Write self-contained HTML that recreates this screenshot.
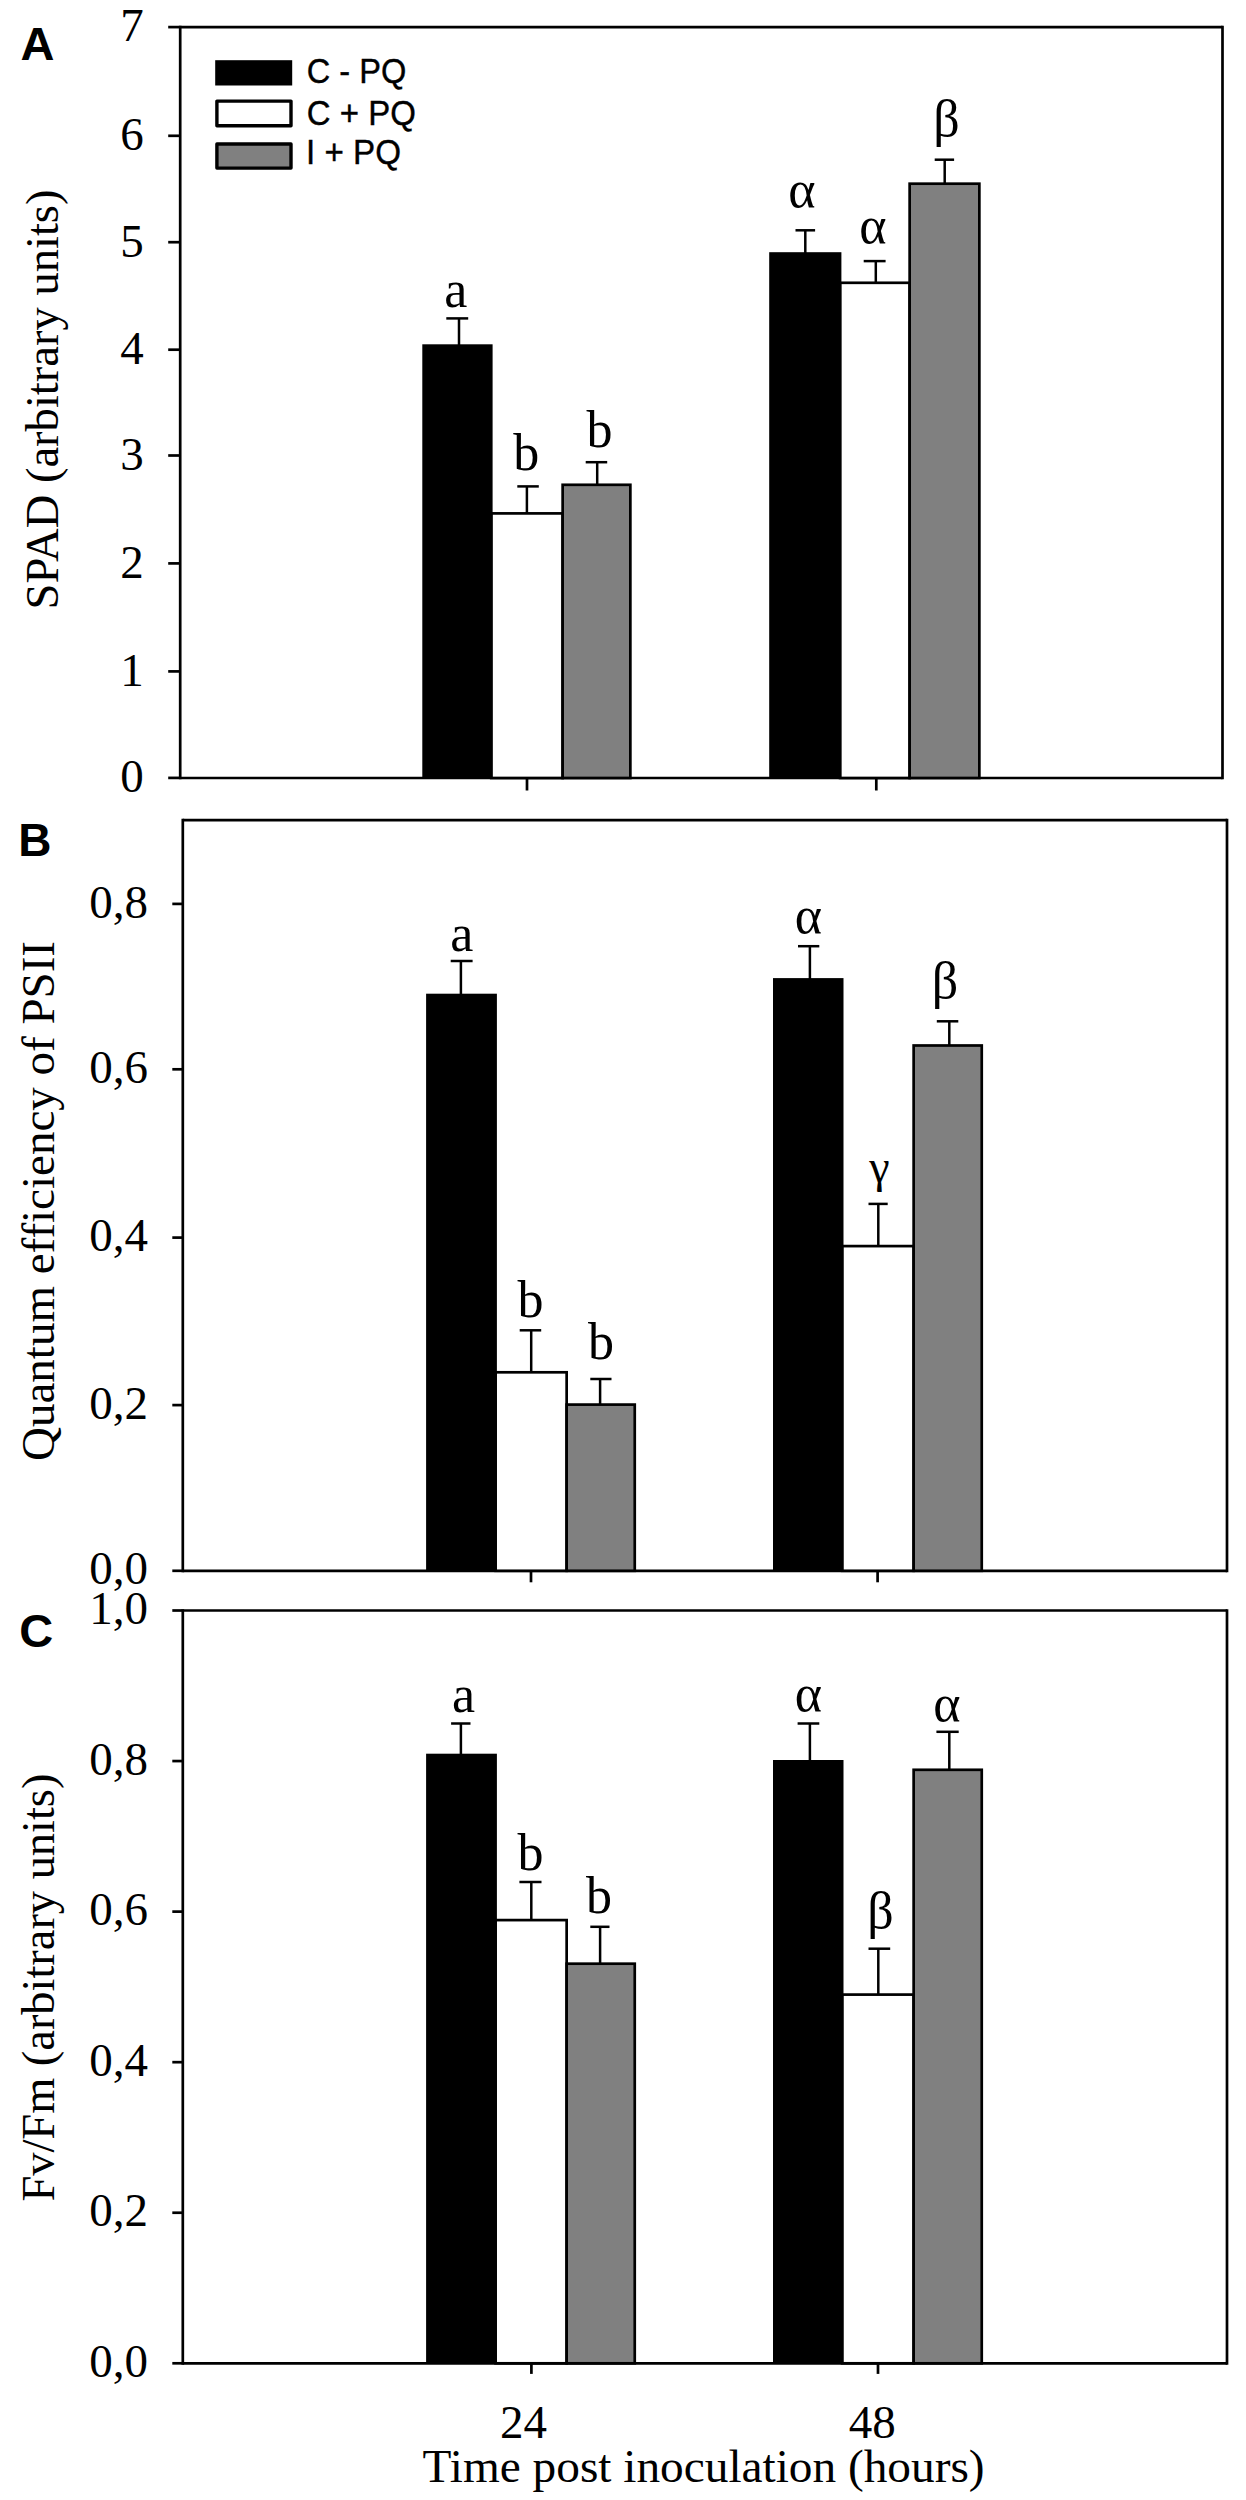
<!DOCTYPE html>
<html lang="en">
<head>
<meta charset="utf-8">
<title>Figure</title>
<style>
html,body{margin:0;padding:0;background:#fff;}
body{width:1246px;height:2500px;overflow:hidden;}
svg{display:block;}
text{fill:#000;}
</style>
</head>
<body>
<svg width="1246" height="2500" viewBox="0 0 1246 2500">
<rect x="0" y="0" width="1246" height="2500" fill="#fff"/>
<line x1="180.2" y1="25.849999999999998" x2="180.2" y2="779.35" stroke="#000" stroke-width="2.7"/>
<line x1="1222.5" y1="25.849999999999998" x2="1222.5" y2="779.35" stroke="#000" stroke-width="2.7"/>
<line x1="180.2" y1="27.2" x2="1222.5" y2="27.2" stroke="#000" stroke-width="2.7"/>
<line x1="180.2" y1="778.0" x2="1222.5" y2="778.0" stroke="#000" stroke-width="2.7"/>
<line x1="168.2" y1="777.9" x2="180.2" y2="777.9" stroke="#000" stroke-width="2.7"/>
<text x="143.8" y="792.1999999999999" font-family='"Liberation Serif", "DejaVu Serif", serif' font-size="47" font-weight="normal" text-anchor="end" >0</text>
<line x1="168.2" y1="671.4" x2="180.2" y2="671.4" stroke="#000" stroke-width="2.7"/>
<text x="143.8" y="685.6999999999999" font-family='"Liberation Serif", "DejaVu Serif", serif' font-size="47" font-weight="normal" text-anchor="end" >1</text>
<line x1="168.2" y1="563.4" x2="180.2" y2="563.4" stroke="#000" stroke-width="2.7"/>
<text x="143.8" y="577.6999999999999" font-family='"Liberation Serif", "DejaVu Serif", serif' font-size="47" font-weight="normal" text-anchor="end" >2</text>
<line x1="168.2" y1="455.5" x2="180.2" y2="455.5" stroke="#000" stroke-width="2.7"/>
<text x="143.8" y="469.8" font-family='"Liberation Serif", "DejaVu Serif", serif' font-size="47" font-weight="normal" text-anchor="end" >3</text>
<line x1="168.2" y1="349.7" x2="180.2" y2="349.7" stroke="#000" stroke-width="2.7"/>
<text x="143.8" y="364.0" font-family='"Liberation Serif", "DejaVu Serif", serif' font-size="47" font-weight="normal" text-anchor="end" >4</text>
<line x1="168.2" y1="242.2" x2="180.2" y2="242.2" stroke="#000" stroke-width="2.7"/>
<text x="143.8" y="256.5" font-family='"Liberation Serif", "DejaVu Serif", serif' font-size="47" font-weight="normal" text-anchor="end" >5</text>
<line x1="168.2" y1="135.8" x2="180.2" y2="135.8" stroke="#000" stroke-width="2.7"/>
<text x="143.8" y="150.10000000000002" font-family='"Liberation Serif", "DejaVu Serif", serif' font-size="47" font-weight="normal" text-anchor="end" >6</text>
<line x1="168.2" y1="27.1" x2="180.2" y2="27.1" stroke="#000" stroke-width="2.7"/>
<text x="143.8" y="41.400000000000006" font-family='"Liberation Serif", "DejaVu Serif", serif' font-size="47" font-weight="normal" text-anchor="end" >7</text>
<line x1="527.0" y1="778.0" x2="527.0" y2="790.5" stroke="#000" stroke-width="2.7"/>
<line x1="876.3" y1="778.0" x2="876.3" y2="790.5" stroke="#000" stroke-width="2.7"/>
<rect x="491.25" y="513.40" width="71.40" height="264.60" fill="#fff" stroke="#000" stroke-width="2.7"/>
<rect x="422.3" y="344.30" width="70.30" height="433.70" fill="#000"/>
<rect x="562.65" y="484.80" width="67.70" height="293.20" fill="#808080" stroke="#000" stroke-width="2.7"/>
<rect x="840.05" y="282.80" width="69.60" height="495.20" fill="#fff" stroke="#000" stroke-width="2.7"/>
<rect x="769.2" y="252.20" width="72.20" height="525.80" fill="#000"/>
<rect x="909.65" y="183.70" width="69.70" height="594.30" fill="#808080" stroke="#000" stroke-width="2.7"/>
<line x1="459.0" y1="318.4" x2="459.0" y2="345" stroke="#000" stroke-width="2.5"/>
<line x1="446.3" y1="318.4" x2="468.2" y2="318.4" stroke="#000" stroke-width="2.5"/>
<line x1="526.9" y1="486.4" x2="526.9" y2="513.4" stroke="#000" stroke-width="2.5"/>
<line x1="517.3" y1="486.4" x2="538.8" y2="486.4" stroke="#000" stroke-width="2.5"/>
<line x1="597.2" y1="462.2" x2="597.2" y2="485" stroke="#000" stroke-width="2.5"/>
<line x1="585.7" y1="462.2" x2="607.2" y2="462.2" stroke="#000" stroke-width="2.5"/>
<line x1="805.3" y1="230.3" x2="805.3" y2="253" stroke="#000" stroke-width="2.5"/>
<line x1="795.5" y1="230.3" x2="815.1" y2="230.3" stroke="#000" stroke-width="2.5"/>
<line x1="875.8" y1="261.1" x2="875.8" y2="283" stroke="#000" stroke-width="2.5"/>
<line x1="863.7" y1="261.1" x2="885.6" y2="261.1" stroke="#000" stroke-width="2.5"/>
<line x1="944.7" y1="159.7" x2="944.7" y2="184" stroke="#000" stroke-width="2.5"/>
<line x1="934.7" y1="159.7" x2="954.1" y2="159.7" stroke="#000" stroke-width="2.5"/>
<text x="455.8" y="306.6" font-family='"Liberation Serif", "DejaVu Serif", serif' font-size="52" font-weight="normal" text-anchor="middle" >a</text>
<text x="526.3" y="470.4" font-family='"Liberation Serif", "DejaVu Serif", serif' font-size="52" font-weight="normal" text-anchor="middle" >b</text>
<text x="599.4" y="447.4" font-family='"Liberation Serif", "DejaVu Serif", serif' font-size="52" font-weight="normal" text-anchor="middle" >b</text>
<text x="801.9" y="206.6" font-family='"Liberation Serif", "DejaVu Serif", serif' font-size="52" font-weight="normal" text-anchor="middle" >α</text>
<text x="872.8" y="243.0" font-family='"Liberation Serif", "DejaVu Serif", serif' font-size="52" font-weight="normal" text-anchor="middle" >α</text>
<text x="946.5" y="136.3" font-family='"Liberation Serif", "DejaVu Serif", serif' font-size="52" font-weight="normal" text-anchor="middle" >β</text>
<rect x="215.2" y="60.2" width="77" height="25.3" fill="#000"/>
<rect x="216.90" y="101.10" width="74.10" height="24.60" fill="#fff" stroke="#000" stroke-width="3.4" stroke-linejoin="round"/>
<rect x="216.90" y="144.00" width="74.10" height="24.10" fill="#808080" stroke="#000" stroke-width="3.4" stroke-linejoin="round"/>
<text x="306.8" y="82.5" font-family='"Liberation Sans", "DejaVu Sans", sans-serif' font-size="35.5" font-weight="normal" text-anchor="start" stroke="#000" stroke-width="0.4" textLength="99.5" lengthAdjust="spacingAndGlyphs">C - PQ</text>
<text x="306.8" y="124.8" font-family='"Liberation Sans", "DejaVu Sans", sans-serif' font-size="35.5" font-weight="normal" text-anchor="start" stroke="#000" stroke-width="0.4" textLength="109" lengthAdjust="spacingAndGlyphs">C + PQ</text>
<text x="306.0" y="164.2" font-family='"Liberation Sans", "DejaVu Sans", sans-serif' font-size="35.5" font-weight="normal" text-anchor="start" stroke="#000" stroke-width="0.4" textLength="95" lengthAdjust="spacingAndGlyphs">I + PQ</text>
<text x="20.5" y="60.2" font-family='"Liberation Sans", "DejaVu Sans", sans-serif' font-size="47" font-weight="bold" text-anchor="start" >A</text>
<text x="18.2" y="856.0" font-family='"Liberation Sans", "DejaVu Sans", sans-serif' font-size="46" font-weight="bold" text-anchor="start" >B</text>
<text x="19.3" y="1646.8" font-family='"Liberation Sans", "DejaVu Sans", sans-serif' font-size="47" font-weight="bold" text-anchor="start" >C</text>
<text transform="translate(58.0,399.5) rotate(-90)" font-family='"Liberation Serif", "DejaVu Serif", serif' font-size="47" text-anchor="middle" textLength="420" lengthAdjust="spacingAndGlyphs">SPAD (arbitrary units)</text>
<line x1="182.8" y1="818.85" x2="182.8" y2="1572.1499999999999" stroke="#000" stroke-width="2.7"/>
<line x1="1227.0" y1="818.85" x2="1227.0" y2="1572.1499999999999" stroke="#000" stroke-width="2.7"/>
<line x1="182.8" y1="820.2" x2="1227.0" y2="820.2" stroke="#000" stroke-width="2.7"/>
<line x1="182.8" y1="1570.8" x2="1227.0" y2="1570.8" stroke="#000" stroke-width="2.7"/>
<line x1="172.3" y1="903.9" x2="182.8" y2="903.9" stroke="#000" stroke-width="2.7"/>
<text x="148.0" y="917.5" font-family='"Liberation Serif", "DejaVu Serif", serif' font-size="47" font-weight="normal" text-anchor="end" >0,8</text>
<line x1="172.3" y1="1069.3" x2="182.8" y2="1069.3" stroke="#000" stroke-width="2.7"/>
<text x="148.0" y="1082.8999999999999" font-family='"Liberation Serif", "DejaVu Serif", serif' font-size="47" font-weight="normal" text-anchor="end" >0,6</text>
<line x1="172.3" y1="1237.6" x2="182.8" y2="1237.6" stroke="#000" stroke-width="2.7"/>
<text x="148.0" y="1251.1999999999998" font-family='"Liberation Serif", "DejaVu Serif", serif' font-size="47" font-weight="normal" text-anchor="end" >0,4</text>
<line x1="172.3" y1="1405.1" x2="182.8" y2="1405.1" stroke="#000" stroke-width="2.7"/>
<text x="148.0" y="1418.6999999999998" font-family='"Liberation Serif", "DejaVu Serif", serif' font-size="47" font-weight="normal" text-anchor="end" >0,2</text>
<line x1="172.3" y1="1570.8" x2="182.8" y2="1570.8" stroke="#000" stroke-width="2.7"/>
<text x="148.0" y="1584.3999999999999" font-family='"Liberation Serif", "DejaVu Serif", serif' font-size="47" font-weight="normal" text-anchor="end" >0,0</text>
<line x1="531.0" y1="1570.8" x2="531.0" y2="1582.3" stroke="#000" stroke-width="2.7"/>
<line x1="877.6" y1="1570.8" x2="877.6" y2="1582.3" stroke="#000" stroke-width="2.7"/>
<rect x="495.55" y="1372.30" width="71.10" height="198.50" fill="#fff" stroke="#000" stroke-width="2.7"/>
<rect x="426.1" y="993.70" width="70.80" height="577.10" fill="#000"/>
<rect x="566.65" y="1404.60" width="68.10" height="166.20" fill="#808080" stroke="#000" stroke-width="2.7"/>
<rect x="842.15" y="1246.10" width="71.50" height="324.70" fill="#fff" stroke="#000" stroke-width="2.7"/>
<rect x="773.0" y="978.10" width="70.50" height="592.70" fill="#000"/>
<rect x="913.65" y="1045.50" width="68.10" height="525.30" fill="#808080" stroke="#000" stroke-width="2.7"/>
<line x1="460.9" y1="961.0" x2="460.9" y2="994.5" stroke="#000" stroke-width="2.5"/>
<line x1="450.7" y1="961.0" x2="472.6" y2="961.0" stroke="#000" stroke-width="2.5"/>
<line x1="531.2" y1="1330.3" x2="531.2" y2="1372.3" stroke="#000" stroke-width="2.5"/>
<line x1="519.7" y1="1330.3" x2="541.2" y2="1330.3" stroke="#000" stroke-width="2.5"/>
<line x1="600.1" y1="1379.0" x2="600.1" y2="1405" stroke="#000" stroke-width="2.5"/>
<line x1="590.3" y1="1379.0" x2="611.5" y2="1379.0" stroke="#000" stroke-width="2.5"/>
<line x1="809.9" y1="946.2" x2="809.9" y2="979" stroke="#000" stroke-width="2.5"/>
<line x1="798.0" y1="946.2" x2="819.3" y2="946.2" stroke="#000" stroke-width="2.5"/>
<line x1="878.3" y1="1203.9" x2="878.3" y2="1246" stroke="#000" stroke-width="2.5"/>
<line x1="868.5" y1="1203.9" x2="887.7" y2="1203.9" stroke="#000" stroke-width="2.5"/>
<line x1="949.3" y1="1021.3" x2="949.3" y2="1046" stroke="#000" stroke-width="2.5"/>
<line x1="936.8" y1="1021.3" x2="958.3" y2="1021.3" stroke="#000" stroke-width="2.5"/>
<text x="461.8" y="950.6" font-family='"Liberation Serif", "DejaVu Serif", serif' font-size="52" font-weight="normal" text-anchor="middle" >a</text>
<text x="530.5" y="1316.6" font-family='"Liberation Serif", "DejaVu Serif", serif' font-size="52" font-weight="normal" text-anchor="middle" >b</text>
<text x="600.9" y="1358.9" font-family='"Liberation Serif", "DejaVu Serif", serif' font-size="52" font-weight="normal" text-anchor="middle" >b</text>
<text x="808.3" y="933.0" font-family='"Liberation Serif", "DejaVu Serif", serif' font-size="52" font-weight="normal" text-anchor="middle" >α</text>
<text x="879.3" y="1182.0" font-family='"Liberation Serif", "DejaVu Serif", serif' font-size="46" font-weight="normal" text-anchor="middle" >γ</text>
<text x="945.0" y="997.9" font-family='"Liberation Serif", "DejaVu Serif", serif' font-size="52" font-weight="normal" text-anchor="middle" >β</text>
<text transform="translate(53.8,1201.0) rotate(-90)" font-family='"Liberation Serif", "DejaVu Serif", serif' font-size="47" text-anchor="middle" textLength="520" lengthAdjust="spacingAndGlyphs">Quantum efficiency of PSII</text>
<line x1="182.8" y1="1609.15" x2="182.8" y2="2364.65" stroke="#000" stroke-width="2.7"/>
<line x1="1227.0" y1="1609.15" x2="1227.0" y2="2364.65" stroke="#000" stroke-width="2.7"/>
<line x1="182.8" y1="1610.5" x2="1227.0" y2="1610.5" stroke="#000" stroke-width="2.7"/>
<line x1="182.8" y1="2363.3" x2="1227.0" y2="2363.3" stroke="#000" stroke-width="2.7"/>
<line x1="172.3" y1="2363.3" x2="182.8" y2="2363.3" stroke="#000" stroke-width="2.7"/>
<text x="148.0" y="2376.9" font-family='"Liberation Serif", "DejaVu Serif", serif' font-size="47" font-weight="normal" text-anchor="end" >0,0</text>
<line x1="172.3" y1="2212.7400000000002" x2="182.8" y2="2212.7400000000002" stroke="#000" stroke-width="2.7"/>
<text x="148.0" y="2226.34" font-family='"Liberation Serif", "DejaVu Serif", serif' font-size="47" font-weight="normal" text-anchor="end" >0,2</text>
<line x1="172.3" y1="2062.1800000000003" x2="182.8" y2="2062.1800000000003" stroke="#000" stroke-width="2.7"/>
<text x="148.0" y="2075.78" font-family='"Liberation Serif", "DejaVu Serif", serif' font-size="47" font-weight="normal" text-anchor="end" >0,4</text>
<line x1="172.3" y1="1911.6200000000001" x2="182.8" y2="1911.6200000000001" stroke="#000" stroke-width="2.7"/>
<text x="148.0" y="1925.22" font-family='"Liberation Serif", "DejaVu Serif", serif' font-size="47" font-weight="normal" text-anchor="end" >0,6</text>
<line x1="172.3" y1="1761.06" x2="182.8" y2="1761.06" stroke="#000" stroke-width="2.7"/>
<text x="148.0" y="1774.6599999999999" font-family='"Liberation Serif", "DejaVu Serif", serif' font-size="47" font-weight="normal" text-anchor="end" >0,8</text>
<line x1="172.3" y1="1610.5" x2="182.8" y2="1610.5" stroke="#000" stroke-width="2.7"/>
<text x="148.0" y="1624.1" font-family='"Liberation Serif", "DejaVu Serif", serif' font-size="47" font-weight="normal" text-anchor="end" >1,0</text>
<line x1="531.4" y1="2363.3" x2="531.4" y2="2373.9" stroke="#000" stroke-width="2.7"/>
<line x1="878.0" y1="2363.3" x2="878.0" y2="2373.9" stroke="#000" stroke-width="2.7"/>
<rect x="495.55" y="1920.10" width="71.10" height="443.20" fill="#fff" stroke="#000" stroke-width="2.7"/>
<rect x="426.1" y="1753.70" width="70.80" height="609.60" fill="#000"/>
<rect x="566.65" y="1963.70" width="68.10" height="399.60" fill="#808080" stroke="#000" stroke-width="2.7"/>
<rect x="842.15" y="1994.60" width="71.50" height="368.70" fill="#fff" stroke="#000" stroke-width="2.7"/>
<rect x="773.0" y="1760.00" width="70.50" height="603.30" fill="#000"/>
<rect x="913.65" y="1769.80" width="68.10" height="593.50" fill="#808080" stroke="#000" stroke-width="2.7"/>
<line x1="460.9" y1="1723.5" x2="460.9" y2="1754.5" stroke="#000" stroke-width="2.5"/>
<line x1="451.1" y1="1723.5" x2="470.5" y2="1723.5" stroke="#000" stroke-width="2.5"/>
<line x1="531.3" y1="1882.0" x2="531.3" y2="1920" stroke="#000" stroke-width="2.5"/>
<line x1="519.4" y1="1882.0" x2="541.5" y2="1882.0" stroke="#000" stroke-width="2.5"/>
<line x1="600.1" y1="1926.8" x2="600.1" y2="1964" stroke="#000" stroke-width="2.5"/>
<line x1="590.3" y1="1926.8" x2="609.5" y2="1926.8" stroke="#000" stroke-width="2.5"/>
<line x1="809.9" y1="1723.5" x2="809.9" y2="1761" stroke="#000" stroke-width="2.5"/>
<line x1="797.6" y1="1723.5" x2="819.3" y2="1723.5" stroke="#000" stroke-width="2.5"/>
<line x1="878.3" y1="1948.7" x2="878.3" y2="1995" stroke="#000" stroke-width="2.5"/>
<line x1="868.5" y1="1948.7" x2="890.2" y2="1948.7" stroke="#000" stroke-width="2.5"/>
<line x1="949.3" y1="1731.8" x2="949.3" y2="1770" stroke="#000" stroke-width="2.5"/>
<line x1="936.4" y1="1731.8" x2="958.7" y2="1731.8" stroke="#000" stroke-width="2.5"/>
<text x="463.5" y="1712.3" font-family='"Liberation Serif", "DejaVu Serif", serif' font-size="52" font-weight="normal" text-anchor="middle" >a</text>
<text x="530.4" y="1869.8" font-family='"Liberation Serif", "DejaVu Serif", serif' font-size="52" font-weight="normal" text-anchor="middle" >b</text>
<text x="599.1" y="1913.0" font-family='"Liberation Serif", "DejaVu Serif", serif' font-size="52" font-weight="normal" text-anchor="middle" >b</text>
<text x="808.3" y="1710.6" font-family='"Liberation Serif", "DejaVu Serif", serif' font-size="52" font-weight="normal" text-anchor="middle" >α</text>
<text x="880.4" y="1927.8" font-family='"Liberation Serif", "DejaVu Serif", serif' font-size="52" font-weight="normal" text-anchor="middle" >β</text>
<text x="946.8" y="1720.6" font-family='"Liberation Serif", "DejaVu Serif", serif' font-size="52" font-weight="normal" text-anchor="middle" >α</text>
<text transform="translate(53.8,1987.6) rotate(-90)" font-family='"Liberation Serif", "DejaVu Serif", serif' font-size="47" text-anchor="middle" textLength="428" lengthAdjust="spacingAndGlyphs">Fv/Fm (arbitrary units)</text>
<text x="523.4" y="2437.6" font-family='"Liberation Serif", "DejaVu Serif", serif' font-size="47" font-weight="normal" text-anchor="middle" >24</text>
<text x="872.3" y="2437.6" font-family='"Liberation Serif", "DejaVu Serif", serif' font-size="47" font-weight="normal" text-anchor="middle" >48</text>
<text x="703.6" y="2481.5" font-family='"Liberation Serif", "DejaVu Serif", serif' font-size="47" font-weight="normal" text-anchor="middle" textLength="562" lengthAdjust="spacingAndGlyphs">Time post inoculation (hours)</text>
</svg>
</body>
</html>
